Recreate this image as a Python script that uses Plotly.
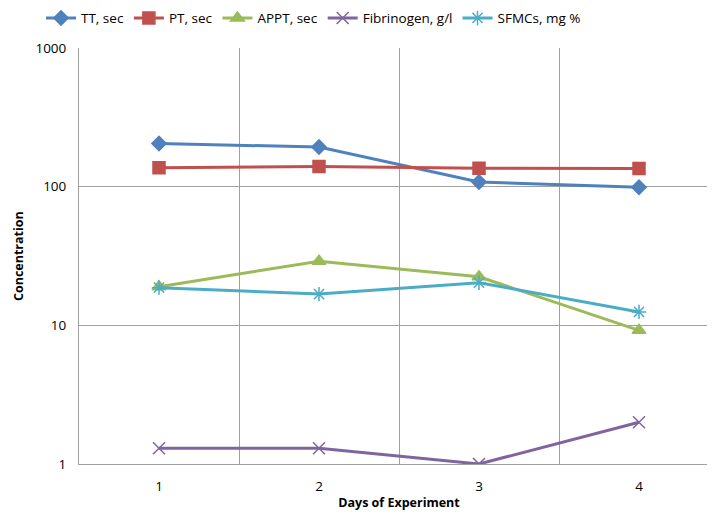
import plotly.graph_objects as go

days = [1, 2, 3, 4]
tt_sec = [205, 193, 108, 99]
pt_sec = [137, 140, 136, 135]
appt_sec = [19, 29, 22.4, 9.2]
fibrinogen = [1.3, 1.3, 1.0, 2.0]
sfmcs = [18.7, 16.8, 20.3, 12.5]

series = [
    ("TT, sec", tt_sec, "#4F81BD", "diamond", 11),
    ("PT, sec", pt_sec, "#C0504D", "square", 12),
    ("APPT, sec", appt_sec, "#9BBB59", "triangle-up", 12),
    ("Fibrinogen, g/l", fibrinogen, "#8064A2", "x-thin-open", 12),
    ("SFMCs, mg %", sfmcs, "#4BACC6", "asterisk-open", 12),
]

font_family = "Open Sans, Liberation Sans, sans-serif"

fig = go.Figure()
for name, vals, color, sym, size in series:
    fig.add_trace(go.Scatter(
        x=days, y=vals, name=name, mode="lines+markers",
        line=dict(color=color, width=3),
        marker=dict(symbol=sym, size=size, color=color,
                    line=dict(color=color, width=1.5)),
    ))

fig.update_layout(
    width=715, height=514,
    margin=dict(l=71, r=4, t=40, b=58, autoexpand=False),
    paper_bgcolor="white", plot_bgcolor="white",
    font=dict(family=font_family, size=13, color="#000000"),
    legend=dict(orientation="h", x=33 / 715, xref="container", xanchor="left",
                y=1.109, yref="paper", yanchor="top",
                font=dict(size=13.5), itemwidth=30, tracegroupgap=0),
    showlegend=True,
    annotations=[dict(
        text="<b>Concentration</b>", textangle=-90,
        xref="paper", yref="paper", x=-61 / 640, y=0.5,
        xanchor="center", yanchor="middle", showarrow=False,
        font=dict(size=12.5),
    )],
)

fig.update_xaxes(
    range=[0.5, 4.5], tickvals=days, ticktext=[str(d) for d in days],
    showgrid=False, showline=True, linecolor="#a0a0a0", linewidth=1,
    ticks="outside", ticklen=10, tickcolor="rgba(0,0,0,0)", zeroline=False,
    automargin=False,
    minor=dict(tick0=0.5, dtick=1, showgrid=True, gridcolor="#a0a0a0", gridwidth=1),
    title=dict(text="<b>Days of Experiment</b>", font=dict(size=12.5), standoff=4),
    tickfont=dict(size=13.5),
)
fig.update_yaxes(
    type="log", range=[0, 3],
    tickvals=[1, 10, 100, 1000], ticktext=["1", "10", "100", "1000"],
    showgrid=True, gridcolor="#a0a0a0", gridwidth=1,
    showline=True, linecolor="#a0a0a0", linewidth=1,
    ticks="outside", ticklen=9, tickcolor="rgba(0,0,0,0)", zeroline=False,
    automargin=False,
    tickfont=dict(size=13.5),
)

fig.write_html("out.html")
